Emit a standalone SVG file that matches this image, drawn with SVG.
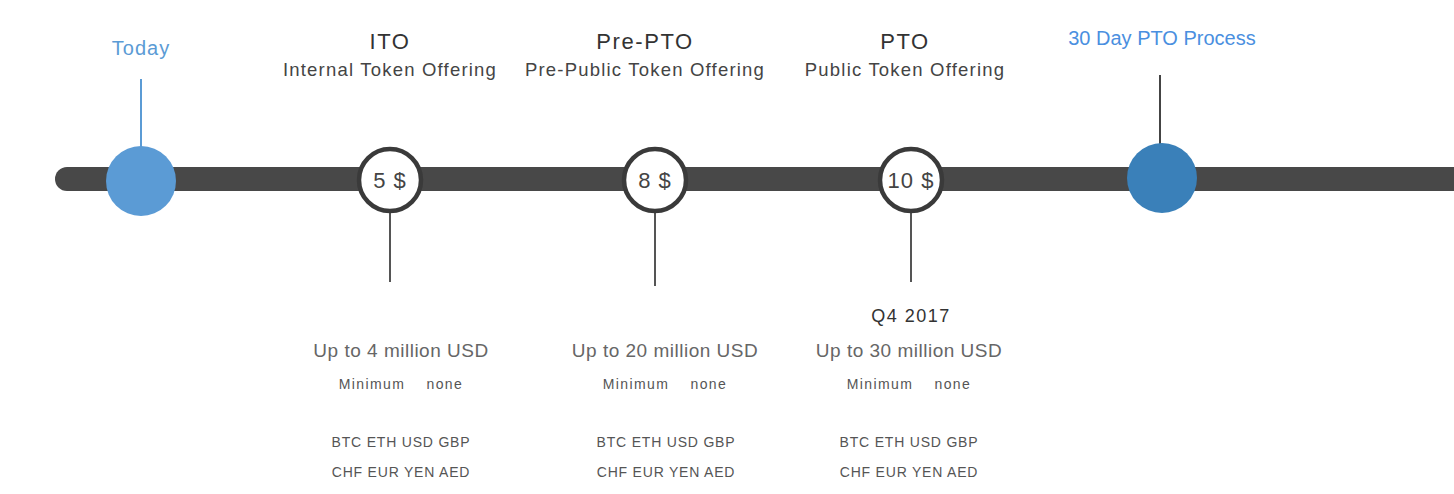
<svg xmlns="http://www.w3.org/2000/svg" width="1454" height="494" viewBox="0 0 1454 494">
<style>
text{font-family:"Liberation Sans",Arial,sans-serif;text-anchor:middle}
.ttl{font-size:22px;fill:#333;letter-spacing:1.6px}
.sub{font-size:18.5px;fill:#444;letter-spacing:1.2px}
.blue{font-size:20px;fill:#5b9bd5}
.price{font-size:22px;fill:#444;letter-spacing:1px}
.amt{font-size:19px;fill:#666;letter-spacing:0.5px}
.small{font-size:14px;fill:#555;letter-spacing:1.4px}
.cur{font-size:14px;fill:#555;letter-spacing:0.8px}
.q{font-size:18px;fill:#333;letter-spacing:1.5px}
.ring{fill:#fff;stroke:#3a3a3a;stroke-width:4.5}
.tick{stroke:#555;stroke-width:2}
</style>
<g id="connectors">
<line x1="67" y1="179" x2="1236" y2="179" stroke="#484848" stroke-width="24" stroke-linecap="round"/>
<rect x="1236" y="167" width="218" height="24" fill="#484848"/>
<line x1="141" y1="79" x2="141" y2="148" stroke="#5b9bd5" stroke-width="2"/>
<line x1="1160" y1="75" x2="1160" y2="146" stroke="#444" stroke-width="2"/>
<line class="tick" x1="390" y1="212" x2="390" y2="282"/>
<line class="tick" x1="655" y1="212" x2="655" y2="286"/>
<line class="tick" x1="911" y1="212" x2="911" y2="282"/>
</g>
<g id="today">
<circle cx="141" cy="181" r="35" fill="#5b9bd5"/>
<text class="blue" x="141" y="55" style="letter-spacing:1px">Today</text>
</g>
<g id="ito">
<text class="ttl" x="390" y="49">ITO</text>
<text class="sub" x="390" y="76">Internal Token Offering</text>
<circle class="ring" cx="390" cy="180" r="31"/>
<text class="price" x="390" y="188">5 $</text>
<text class="amt" x="401" y="357">Up to 4 million USD</text>
<text class="small" x="401" y="389" xml:space="preserve">Minimum    none</text>
<text class="cur" x="401" y="447">BTC ETH USD GBP</text>
<text class="cur" x="401" y="477">CHF EUR YEN AED</text>
</g>
<g id="preptos">
<text class="ttl" x="645" y="49">Pre-PTO</text>
<text class="sub" x="645" y="76">Pre-Public Token Offering</text>
<circle class="ring" cx="655" cy="180" r="31"/>
<text class="price" x="655" y="188">8 $</text>
<text class="amt" x="665" y="357">Up to 20 million USD</text>
<text class="small" x="665" y="389" xml:space="preserve">Minimum    none</text>
<text class="cur" x="666" y="447">BTC ETH USD GBP</text>
<text class="cur" x="666" y="477">CHF EUR YEN AED</text>
</g>
<g id="pto">
<text class="ttl" x="905" y="49">PTO</text>
<text class="sub" x="905" y="76">Public Token Offering</text>
<circle class="ring" cx="911" cy="180" r="31"/>
<text class="price" x="911" y="188">10 $</text>
<text class="q" x="911" y="322">Q4 2017</text>
<text class="amt" x="909" y="357">Up to 30 million USD</text>
<text class="small" x="909" y="389" xml:space="preserve">Minimum    none</text>
<text class="cur" x="909" y="447">BTC ETH USD GBP</text>
<text class="cur" x="909" y="477">CHF EUR YEN AED</text>
</g>
<g id="process">
<circle cx="1162" cy="178" r="35" fill="#3a80b9"/>
<text class="blue" x="1162" y="45" style="fill:#4a8fe0">30 Day PTO Process</text>
</g>
</svg>
